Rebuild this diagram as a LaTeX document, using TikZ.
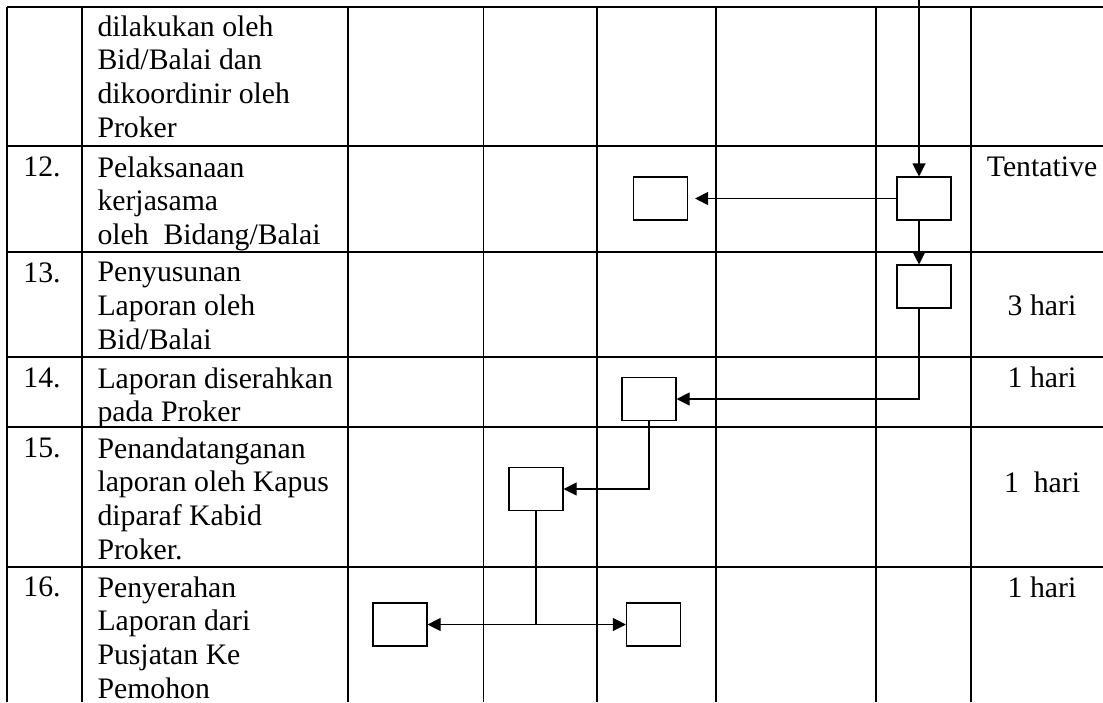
\documentclass[tikz,border=0pt]{standalone}
\usepackage{fontspec}
\setmainfont{Liberation Serif}
\usetikzlibrary{arrows.meta}
\newcommand{\drawrule}{\draw[line width=0.7pt]}
\newcommand{\drawtablegrid}{
    \foreach \y in {7,146,252,357,427,567}{
      \drawrule (7,\y)--(1103,\y);
    }
    \foreach \x in {7,82,348,597,716,876,971}{
      \drawrule (\x,7)--(\x,702);
    }
    \draw[line width=0.4pt] (483,7)--(483,702);
}
\tikzset{
  stepbox/.style={draw, line width=0.45pt, minimum width=21.6pt, minimum height=17.2pt, inner sep=0pt},
  flow/.style={line width=0.45pt, -{Triangle[length=5.2pt,width=5.2pt]}},
  celltext/.style={anchor=north west, inner sep=0pt, align=left},
  numtext/.style={anchor=north, inner sep=0pt},
  timetext/.style={anchor=north, inner sep=0pt}
}
\begin{document}
\begin{tikzpicture}[x=0.4pt,y=-0.4pt,font=\fontsize{11.9}{13.5}\selectfont]
\useasboundingbox (0,0) rectangle (1103,702);
\drawtablegrid
\node[celltext] (t11) at (97,15) {dilakukan oleh\\Bid/Balai dan\\dikoordinir oleh\\Proker};
\node[numtext] (n12) at (42,156) {12.};\node[celltext] (t12) at (97,156) {Pelaksanaan\\kerjasama\\oleh~ Bidang/Balai};
\node[numtext] (n13) at (42,262) {13.};\node[celltext] (t13) at (97,262) {Penyusunan\\Laporan oleh\\Bid/Balai};
\node[numtext] (n14) at (42,367) {14.};\node[celltext] (t14) at (97,367) {Laporan diserahkan\\pada Proker};
\node[numtext] (n15) at (42,437) {15.};\node[celltext] (t15) at (97,437) {Penandatanganan\\laporan oleh Kapus\\diparaf Kabid\\Proker.};
\node[numtext] (n16) at (42,576) {16.};\node[celltext] (t16) at (97,576) {Penyerahan\\Laporan dari\\Pusjatan Ke\\Pemohon};
\node[timetext] (w12) at (1042,156) {Tentative};
\node[timetext] (w13) at (1042,294) {3 hari};
\node[timetext] (w14) at (1042,366) {1 hari};
\node[timetext] (w15) at (1042,471) {1~ hari};
\node[timetext] (w16) at (1042,576) {1 hari};
\node[stepbox] (b12a) at (660.5,198.5) {};
\node[stepbox] (b12b) at (924,198.5) {};
\node[stepbox] (b13) at (924,286.5) {};
\node[stepbox] (b14) at (649,399) {};
\node[stepbox] (b15) at (536,489) {};
\node[stepbox] (b16a) at (400,624.5) {};
\node[stepbox] (b16b) at (653.5,624.5) {};
\coordinate (top) at (919,0);
\draw[flow] (top) -- (top |- b12b.north);
\draw[flow, shorten >=2.8pt] (b12b.west) -- (b12a.east);
\draw[flow] (top |- b12b.south) -- (top |- b13.north);
\draw[flow] (top |- b13.south) |- (b14.east);
\draw[flow] (b14.south) |- (b15.east);
\coordinate (split) at (b15.south |- b16a.east);
\draw[line width=0.45pt] (b15.south) -- (split);
\draw[flow] (split) -- (b16a.east);
\draw[flow] (split) -- (b16b.west);
\end{tikzpicture}
\end{document}
